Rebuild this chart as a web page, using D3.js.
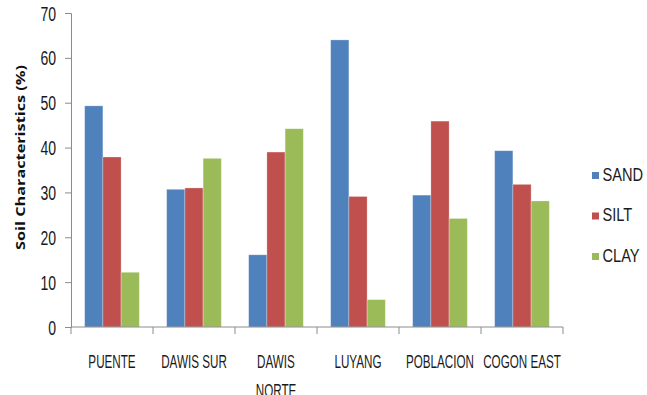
<!DOCTYPE html>
<html>
<head>
<meta charset="utf-8">
<script src="https://cdn.jsdelivr.net/npm/d3@7"></script>
<style>
  html, body { margin: 0; padding: 0; background: #fff; }
  svg { display: block; }
  .lbl { font-family: "Liberation Sans", Arial, sans-serif; fill: #1a1a1a; }
</style>
</head>
<body>
<svg id="chart" width="647" height="395"></svg>
<script>
// Soil texture composition per barangay (%)
const sites = ["PUENTE", "DAWIS SUR", "DAWIS NORTE", "LUYANG", "POBLACION", "COGON EAST"];
const siteLines = [["PUENTE"], ["DAWIS SUR"], ["DAWIS", "NORTE"], ["LUYANG"], ["POBLACION"], ["COGON EAST"]];
const seriesNames = ["SAND", "SILT", "CLAY"];
const sand = [49.3, 30.7, 16.1, 64.0, 29.4, 39.3];
const silt = [37.9, 31.0, 39.0, 29.1, 45.9, 31.8];
const clay = [12.2, 37.6, 44.2, 6.1, 24.2, 28.1];
const yTicks = [0, 10, 20, 30, 40, 50, 60, 70];
const colors = ["#4F81BD", "#C0504D", "#9BBB59"];

const values = [sand, silt, clay];
const svg = d3.select("#chart");

const m = { left: 71, right: 84, top: 13, bottom: 68 };
const W = 647, H = 395;
const plotW = W - m.left - m.right;
const plotH = H - m.top - m.bottom;

// condensed lettering: squeeze text horizontally around its anchor point
function squeeze(sel, x, y, sx) {
  sel.attr("x", 0).attr("y", 0).attr("transform", `translate(${x},${y}) scale(${sx},1)`);
}

const g = svg.append("g").attr("transform", `translate(${m.left},${m.top})`);

const x = d3.scaleBand().domain(sites).range([0, plotW]).paddingInner(1/3).paddingOuter(1/6);
const xOuter = d3.scaleBand().domain(sites).range([0, plotW]);
const xs = d3.scaleBand().domain(seriesNames).range([0, x.bandwidth()]);
const y = d3.scaleLinear().domain([0, 70]).range([plotH, 0]);

// bars
seriesNames.forEach((s, si) => {
  g.selectAll(".bar-" + s)
    .data(sites.map((c, i) => ({ c, v: values[si][i] })))
    .enter().append("rect")
    .attr("x", d => x(d.c) + xs(s))
    .attr("y", d => y(d.v))
    .attr("width", xs.bandwidth())
    .attr("height", d => plotH - y(d.v))
    .attr("fill", colors[si])
    .attr("stroke", "#ffffff")
    .attr("stroke-opacity", 0.35)
    .attr("stroke-width", 0.8);
});

// y axis
const yAxis = g.append("g")
  .call(d3.axisLeft(y).tickValues(yTicks).tickSize(6).tickFormat(d3.format("d")));
yAxis.select(".domain").attr("stroke", "#8c8c8c");
yAxis.selectAll(".tick line").attr("stroke", "#8c8c8c");
yAxis.selectAll(".tick text").attr("class", "lbl")
  .style("font-size", "19.5px")
  .attr("dy", "0.36em")
  .each(function () { squeeze(d3.select(this), -15, 0, 0.72); });

// x axis: ticks at category boundaries
const xAxisG = g.append("g").attr("transform", `translate(0,${plotH})`);
xAxisG.append("line").attr("x1", 0).attr("x2", plotW).attr("stroke", "#8c8c8c");
const bounds = sites.map(c => xOuter(c)).concat([plotW]);
xAxisG.selectAll(".xt").data(bounds).enter().append("line")
  .attr("x1", d => d).attr("x2", d => d).attr("y1", 0).attr("y2", 7)
  .attr("stroke", "#8c8c8c");

// category labels
sites.forEach((c, i) => {
  const cx = xOuter(c) + xOuter.bandwidth() / 2;
  siteLines[i].forEach((ln, k) => {
    const t = xAxisG.append("text").attr("class", "lbl")
      .attr("text-anchor", "middle")
      .style("font-size", "18.5px")
      .text(ln);
    squeeze(t, cx, 41 + k * 28.5, 0.63);
  });
});

// y axis title
svg.append("text")
  .attr("transform", `translate(24.5,157.5) rotate(-90)`)
  .attr("text-anchor", "middle")
  .attr("textLength", 185)
  .attr("lengthAdjust", "spacingAndGlyphs")
  .style("font-family", "'Open Sans', 'DejaVu Sans', sans-serif")
  .style("font-weight", "bold")
  .style("font-size", "13px")
  .attr("fill", "#111")
  .text("Soil Characteristics (%)");

// legend
const legendY = [175.5, 216, 256.5];
const leg = svg.append("g");
seriesNames.forEach((s, i) => {
  leg.append("rect").attr("x", 592).attr("y", legendY[i] - 3.5).attr("width", 7).attr("height", 7).attr("fill", colors[i]);
  const t = leg.append("text").attr("class", "lbl").style("font-size", "19px").text(s);
  squeeze(t, 602.5, legendY[i] + 5, 0.77);
});
</script>
</body>
</html>
